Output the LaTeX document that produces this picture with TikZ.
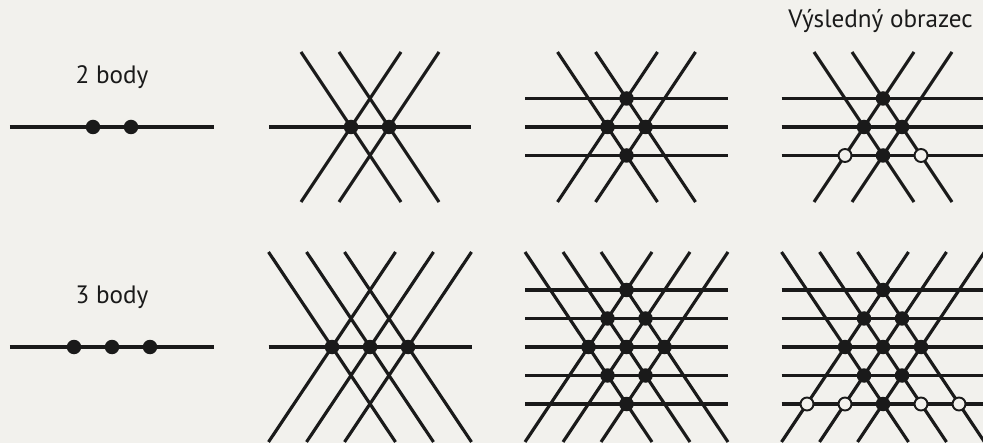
\documentclass[tikz,border=0pt]{standalone}
\usepackage{fontspec}
\setmainfont{PT Sans}
\usepackage{tikz}
\usetikzlibrary{calc}
\definecolor{paper}{RGB}{242,241,237}
\definecolor{ink}{RGB}{26,26,26}

\begin{document}
\begin{tikzpicture}[font=\fontsize{14.3}{16}\selectfont]
		\tikzset{ln/.style={draw=ink, line width=1.8pt}}
		\tikzset{pt/.style={circle, fill=ink, inner sep=0pt, minimum size=0.29cm}}
		\tikzset{hol/.style={circle, draw=ink, fill=paper, line width=1.1pt, inner sep=0pt, minimum size=0.26cm}}
		\fill[paper] (0,0) rectangle (19.66,8.86);
		\useasboundingbox (0,0) rectangle (19.66,8.86);
		% heads
		\node[text=ink] (t2) at (2.24,7.32) {2 body};
		\node[text=ink] (t3) at (2.24,2.92) {3 body};
		\node[text=ink] (tv) at (17.61,8.44) {Výsledný obrazec};
		% 2 body, on the line
		\draw[ln] (0.20,6.32) -- (4.28,6.32);
		\node[pt] (a1) at (1.86,6.32) {}; \node[pt] (a2) at (2.62,6.32) {};
		% 2 body, lines through the points
		\draw[ln] (5.38,6.32) -- (9.42,6.32);
		\draw[ln] (6.02,7.82) -- (8.02,4.82); \draw[ln] (6.02,4.82) -- (8.02,7.82);
		\draw[ln] (6.78,7.82) -- (8.78,4.82); \draw[ln] (6.78,4.82) -- (8.78,7.82);
		\node[pt] (b1) at (7.02,6.32) {}; \node[pt] (b2) at (7.78,6.32) {};
		% 2 body, new crossings
		\draw[ln] (10.50,6.89) -- (14.56,6.89);
		\draw[ln] (10.50,6.32) -- (14.56,6.32);
		\draw[ln] (10.50,5.75) -- (14.56,5.75);
		\draw[ln] (11.15,7.82) -- (13.15,4.82); \draw[ln] (11.15,4.82) -- (13.15,7.82);
		\draw[ln] (11.91,7.82) -- (13.91,4.82); \draw[ln] (11.91,4.82) -- (13.91,7.82);
		\node[pt] (c1) at (12.53,6.89) {};
		\node[pt] (c2) at (12.15,6.32) {}; \node[pt] (c3) at (12.91,6.32) {};
		\node[pt] (c4) at (12.53,5.75) {};
		% 2 body, result
		\draw[ln] (15.63,6.89) -- (19.69,6.89);
		\draw[ln] (15.63,6.32) -- (19.69,6.32);
		\draw[ln] (15.63,5.75) -- (19.69,5.75);
		\draw[ln] (16.28,7.82) -- (18.28,4.82); \draw[ln] (16.28,4.82) -- (18.28,7.82);
		\draw[ln] (17.04,7.82) -- (19.04,4.82); \draw[ln] (17.04,4.82) -- (19.04,7.82);
		\node[pt] (d1) at (17.66,6.89) {};
		\node[pt] (d2) at (17.28,6.32) {}; \node[pt] (d3) at (18.04,6.32) {};
		\node[pt] (d4) at (17.66,5.75) {};
		\node[hol] (o1) at (16.90,5.75) {}; \node[hol] (o2) at (18.42,5.75) {};
		% 3 body, on the line
		\draw[ln] (0.20,1.92) -- (4.28,1.92);
		\node[pt] (e1) at (1.48,1.92) {}; \node[pt] (e2) at (2.24,1.92) {}; \node[pt] (e3) at (3.00,1.92) {};
		% 3 body, lines through the points
		\draw[ln] (5.37,1.92) -- (9.43,1.92);
		\draw[ln] (5.37,3.82) -- (7.91,0.02); \draw[ln] (5.37,0.02) -- (7.91,3.82);
		\draw[ln] (6.13,3.82) -- (8.67,0.02); \draw[ln] (6.13,0.02) -- (8.67,3.82);
		\draw[ln] (6.89,3.82) -- (9.43,0.02); \draw[ln] (6.89,0.02) -- (9.43,3.82);
		\node[pt] (f1) at (6.64,1.92) {}; \node[pt] (f2) at (7.40,1.92) {}; \node[pt] (f3) at (8.16,1.92) {};
		% 3 body, new crossings
		\draw[ln] (10.50,3.06) -- (14.56,3.06);
		\draw[ln] (10.50,2.49) -- (14.56,2.49);
		\draw[ln] (10.50,1.92) -- (14.56,1.92);
		\draw[ln] (10.50,1.35) -- (14.56,1.35);
		\draw[ln] (10.50,0.78) -- (14.56,0.78);
		\draw[ln] (10.50,3.82) -- (13.04,0.02); \draw[ln] (10.50,0.02) -- (13.04,3.82);
		\draw[ln] (11.26,3.82) -- (13.80,0.02); \draw[ln] (11.26,0.02) -- (13.80,3.82);
		\draw[ln] (12.02,3.82) -- (14.56,0.02); \draw[ln] (12.02,0.02) -- (14.56,3.82);
		\node[pt] (g1) at (12.53,3.06) {};
		\node[pt] (g2) at (12.15,2.49) {}; \node[pt] (g3) at (12.91,2.49) {};
		\node[pt] (g4) at (11.77,1.92) {}; \node[pt] (g5) at (12.53,1.92) {}; \node[pt] (g6) at (13.29,1.92) {};
		\node[pt] (g7) at (12.15,1.35) {}; \node[pt] (g8) at (12.91,1.35) {};
		\node[pt] (g9) at (12.53,0.78) {};
		% 3 body, result
		\draw[ln] (15.63,3.06) -- (19.69,3.06);
		\draw[ln] (15.63,2.49) -- (19.69,2.49);
		\draw[ln] (15.63,1.92) -- (19.69,1.92);
		\draw[ln] (15.63,1.35) -- (19.69,1.35);
		\draw[ln] (15.63,0.78) -- (19.69,0.78);
		\draw[ln] (15.63,3.82) -- (18.17,0.02); \draw[ln] (15.63,0.02) -- (18.17,3.82);
		\draw[ln] (16.39,3.82) -- (18.93,0.02); \draw[ln] (16.39,0.02) -- (18.93,3.82);
		\draw[ln] (17.15,3.82) -- (19.69,0.02); \draw[ln] (17.15,0.02) -- (19.69,3.82);
		\node[pt] (h1) at (17.66,3.06) {};
		\node[pt] (h2) at (17.28,2.49) {}; \node[pt] (h3) at (18.04,2.49) {};
		\node[pt] (h4) at (16.90,1.92) {}; \node[pt] (h5) at (17.66,1.92) {}; \node[pt] (h6) at (18.42,1.92) {};
		\node[pt] (h7) at (17.28,1.35) {}; \node[pt] (h8) at (18.04,1.35) {};
		\node[pt] (h9) at (17.66,0.78) {};
		\node[hol] (p1) at (16.14,0.78) {}; \node[hol] (p2) at (16.90,0.78) {};
		\node[hol] (p3) at (18.42,0.78) {}; \node[hol] (p4) at (19.18,0.78) {};
	\end{tikzpicture}
\end{document}
